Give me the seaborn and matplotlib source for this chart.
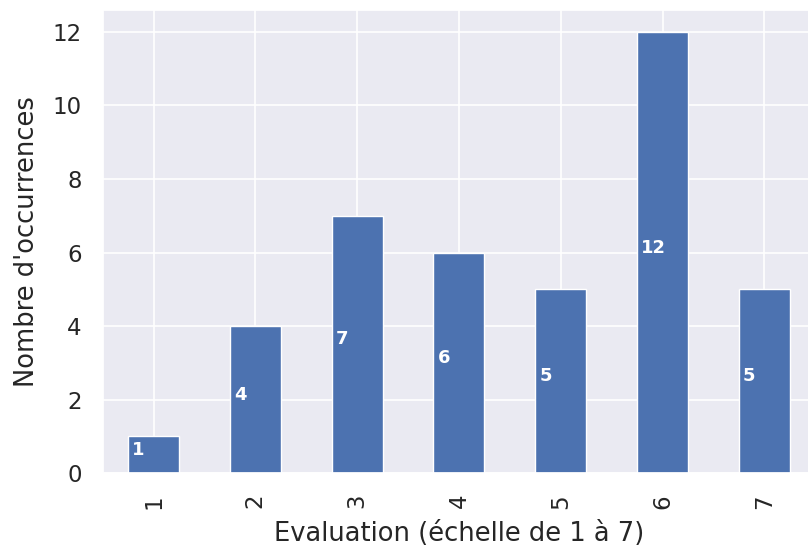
import pandas as pd
import matplotlib
matplotlib.use('Agg')
import matplotlib.pyplot as plt
import seaborn as sns

# Data
notes = ['1', '2', '3', '4', '5', '6', '7']
occurrences = [1, 4, 7, 6, 5, 12, 5]

df = pd.DataFrame({'note': notes, 'count': occurrences})

sns.set_theme(style='darkgrid')
plt.rcParams['font.family'] = ['DejaVu Sans']

fig = plt.figure(figsize=(8.08, 5.47), dpi=100)
ax = fig.add_axes([0.127, 0.135, 0.882, 0.847])

sns.barplot(data=df, x='note', y='count', color='#4c72b0', saturation=1,
            width=0.5, edgecolor='white', linewidth=1, ax=ax)

# value labels inside the bars
for i, v in enumerate(occurrences):
    ax.text(i - 0.21, v / 2, str(v), color='white', fontweight='bold',
            fontsize=13, ha='left', va='baseline')

ax.set_xlim(-0.5, 6.5)
ax.set_ylim(0, 12.6)
ax.set_yticks([0, 2, 4, 6, 8, 10, 12])
ax.grid(True, axis='both', color='white', linewidth=1.2)
ax.set_axisbelow(True)
ax.tick_params(axis='both', labelsize=16.5, pad=9)
plt.setp(ax.get_xticklabels(), rotation=90)
ax.set_xlabel('Evaluation (échelle de 1 à 7)', fontsize=18.5, labelpad=9)
ax.set_ylabel("Nombre d'occurrences", fontsize=18.5, labelpad=9)

fig.savefig('out.png', dpi=100)
plt.close()
